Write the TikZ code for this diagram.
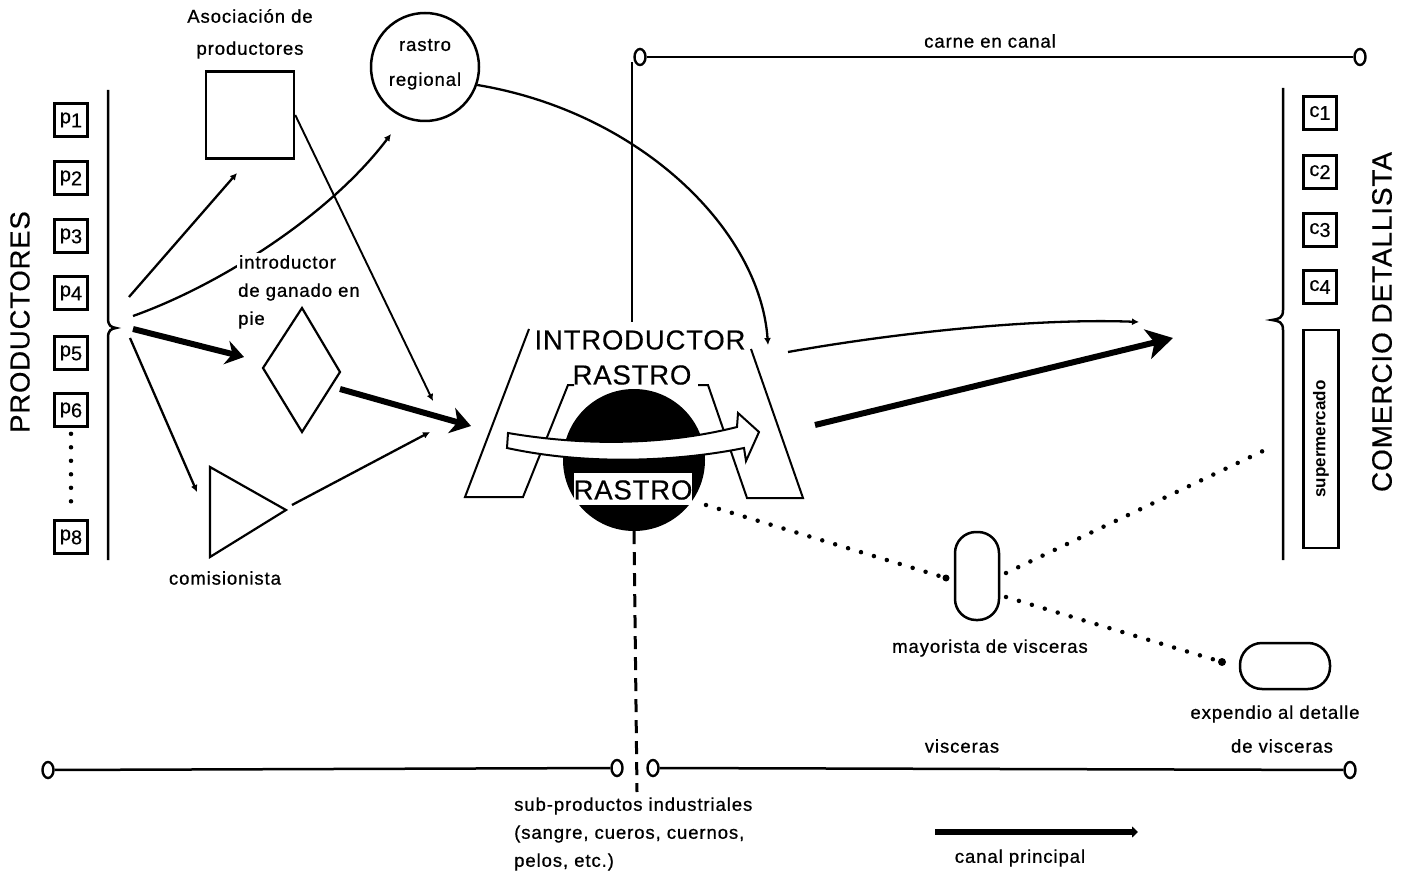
\documentclass[tikz,border=0pt]{standalone}
\usepackage{fontspec}
\setmainfont{Liberation Sans}
\newfontfamily\lsp[LetterSpace=5,FakeBold=0.8]{Liberation Sans}
\newfontfamily\bsp[LetterSpace=3,FakeBold=0.4]{Liberation Sans}
\usetikzlibrary{arrows.meta,shapes.geometric,shapes.misc}
\begin{document}
\begin{tikzpicture}[x=1pt,y=-1pt,
  lbl/.style={font=\lsp\fontsize{18.5}{20}\selectfont, inner sep=1pt},
  big/.style={font=\bsp\fontsize{27.5}{30}\selectfont, inner sep=0pt},
  pbox/.style={draw, line width=2.6pt, minimum width=33pt, minimum height=33pt, inner sep=0pt, font=\bsp\fontsize{20}{22}\selectfont},
  ocirc/.style={draw, ellipse, line width=2.4pt, minimum width=11pt, minimum height=16pt, inner sep=0pt},
  conn/.style={line width=2.3pt},
  dottip/.style={-{Latex[length=7pt,width=7pt]}},
  mainarr/.style={line width=6pt, -{Stealth[length=22pt,width=24pt,inset=6pt]}},
  dotline/.style={line width=4.5pt, line cap=round, dash pattern=on 0pt off 13.5pt},
  shp/.style={line width=2.5pt}
]
\useasboundingbox (0,0) rectangle (1406,877);
\fill[white] (0,0) rectangle (1406,877);

% ---------- left: productores ----------
\node[big, rotate=90, font=\bsp\fontsize{27.5}{30}\selectfont] (prod) at (20,322) {PRODUCTORES};
\node[pbox] (p1) at (71,120) {p\raisebox{-4pt}{1}};
\node[pbox] (p2) at (71,178) {p\raisebox{-4pt}{2}};
\node[pbox] (p3) at (71,236) {p\raisebox{-4pt}{3}};
\node[pbox] (p4) at (71,293) {p\raisebox{-4pt}{4}};
\node[pbox] (p5) at (71,353) {p\raisebox{-4pt}{5}};
\node[pbox] (p6) at (71,410) {p\raisebox{-4pt}{6}};
\node[pbox] (p8) at (71,537) {p\raisebox{-4pt}{8}};
\draw[dotline] ([yshift=-6pt]p6.south) -- ([yshift=6pt]p8.north);
\draw[shp] (108,90) -- (108,318) .. controls (108,326) and (111,327) .. (116,328)
  .. controls (111,329) and (108,330) .. (108,338) -- (108,560);

% ---------- intermediaries ----------
\node[lbl] (asoclbl1) at (250,16) {Asociación de};
\node[lbl] (asoclbl2) at (250,50) {productores};
\node[draw, shp, minimum width=88pt, minimum height=87pt, inner sep=0pt] (asoc) at (250,115) {};
\node[draw, shp, circle, minimum size=108pt, inner sep=0pt] (rr) at (425,67) {};
\node[lbl] (rrl1) at (425,45) {rastro};
\node[lbl] (rrl2) at (425,81) {regional};

\draw[shp, line width=2.2pt] (302,308) coordinate (dtop) -- (340,372) coordinate (dright) -- (302,432) coordinate (dbot) -- (263,368) coordinate (dleft) -- cycle;
\draw[shp, line width=2.2pt] (210,467) coordinate (tl) -- (286,510) coordinate (ttip) -- (210,557) coordinate (tb) -- cycle;
\node[lbl] (coml) at (225,578) {comisionista};

% connectors from producers
\coordinate (s1) at (129,297);
\coordinate (s2) at (133,316);
\coordinate (s3) at (133,329);
\coordinate (s4) at (130,338);
\coordinate (e1) at (237,173);
\coordinate (e2) at (391,134);
\coordinate (e3) at (244,357);
\coordinate (e4) at (197,492);
\draw[conn, dottip] (s1) -- (e1);
\draw[conn, dottip] (s2) .. controls (220,285) and (330,215) .. (e2);
\draw[mainarr, -{Stealth[length=18pt,width=24pt,inset=6pt]}] (s3) -- (e3);
\draw[conn, dottip] (s4) -- (e4);

\node[lbl, anchor=west, fill=white, inner sep=2pt] (intl1) at (237,262) {introductor};
\node[lbl, anchor=west] (intl2) at (237,292) {de ganado en};
\node[lbl, anchor=west] (intl3) at (237,320) {pie};

% connectors to rastro
\coordinate (e5) at (433,401);
\coordinate (ds) at (340,389);
\coordinate (e6) at (471,426);
\coordinate (ts) at (292,505);
\coordinate (e7) at (430,432);
\draw[conn, line width=1.9pt, dottip] (asoc.east) -- (e5);
\draw[mainarr, -{Stealth[length=20pt,width=26pt,inset=6pt]}] (ds) -- (e6);
\draw[conn, dottip] (ts) -- (e7);

% ---------- central rastro figure ----------
\draw[shp, line width=2pt] (529,329) -- (465,497) -- (523,497) -- (568,385) -- (574,385);
\draw[shp, line width=2pt] (751,349) -- (803,498) -- (747,498) -- (708,385) -- (698,385);
\node[circle, fill=black, minimum size=142pt, inner sep=0pt] (ball) at (634,460) {};
\draw[line width=2pt, fill=white] (508,433) .. controls (590,447) and (670,444) .. (737,427)
  -- (738,413) -- (759,432) -- (746,461) -- (744,448)
  .. controls (680,461) and (590,466) .. (507,448) -- cycle;
\node[fill=white, minimum width=118pt, minimum height=32pt, inner sep=0pt] (rbox) at (633,489) {};
\node[big] (rastro2) at (633,490) {RASTRO};
\node[big] (intro) at (640,340) {INTRODUCTOR};
\node[big] (rastro1) at (632,375) {RASTRO};

% ---------- top line ----------
\node[ocirc] (cl) at (640,57) {};
\node[ocirc] (cr) at (1360,57) {};
\draw[shp] (cl) -- (cr);
\node[lbl] (carne) at (990,41) {carne en canal};
\draw[shp, line width=2.2pt] (632,62) -- (632,322);

% rastro regional curve
\coordinate (e8) at (768,345);
\draw[conn, dottip] (rr.-19) .. controls (640,112) and (760,230) .. (e8);

% to retail
\coordinate (r1) at (788,352);
\coordinate (r2) at (1139,322);
\draw[conn, dottip] (r1) .. controls (900,332) and (1040,318) .. (r2);
\coordinate (r3) at (815,425);
\coordinate (r4) at (1173,338);
\draw[mainarr, -{Stealth[length=26pt,width=30pt,inset=7pt]}] (r3) -- (r4);

% ---------- right: comercio detallista ----------
\draw[shp] (1283,88) -- (1283,310) .. controls (1283,318) and (1279,319) .. (1272,320)
  .. controls (1279,321) and (1283,322) .. (1283,330) -- (1283,560);
\node[pbox] (c1) at (1320,113) {\raisebox{3pt}{c}1};
\node[pbox] (c2) at (1320,172) {\raisebox{3pt}{c}2};
\node[pbox] (c3) at (1320,230) {\raisebox{3pt}{c}3};
\node[pbox] (c4) at (1320,287) {\raisebox{3pt}{c}4};
\node[draw, shp, rotate=90, minimum width=218pt, minimum height=35pt, inner sep=0pt,
  font=\fontsize{17}{19}\selectfont\bfseries] (super) at (1321,439) {supermercado};
\node[big, rotate=90, font=\bsp\fontsize{28}{30}\selectfont] (comd) at (1382,322) {COMERCIO DETALLISTA};

% ---------- visceras ----------
\node[draw, shp, rounded corners=21pt, minimum width=44pt, minimum height=88pt] (may) at (977,576) {};
\node[lbl] (mayl) at (990,648) {mayorista de visceras};
\node[draw, shp, rounded corners=22pt, minimum width=90pt, minimum height=46pt] (exp) at (1285,666) {};
\node[lbl] (expl1) at (1275,714) {expendio al detalle};
\node[lbl] (expl2) at (1282,746) {de visceras};
\coordinate (v1) at (706,505);
\coordinate (v2) at (946,578);
\draw[dotline] (v1) -- (v2);
\fill (v2) circle (3.5pt);
\coordinate (v3) at (1006,573);
\coordinate (v4) at (1265,450);
\draw[dotline] (v3) -- (v4);
\coordinate (v5) at (1006,597);
\coordinate (v6) at (1222,662);
\draw[dotline] (v5) -- (v6);
\fill (v6) circle (4pt);

% ---------- bottom lines ----------
\draw[line width=3pt, dash pattern=on 13pt off 8pt] (ball.south) -- (637,792);
\node[ocirc] (bl1) at (48,770) {};
\node[ocirc] (bl2) at (617,768) {};
\draw[shp] (bl1) -- (bl2);
\node[ocirc] (br1) at (653,768) {};
\node[ocirc] (br2) at (1350,770) {};
\draw[shp] (br1) -- (br2);
\node[lbl] (visc) at (962,746) {visceras};
\node[lbl, anchor=west] (sub1) at (513,806) {sub-productos industriales};
\node[lbl, anchor=west] (sub2) at (513,834) {(sangre, cueros, cuernos,};
\node[lbl, anchor=west] (sub3) at (513,862) {pelos, etc.)};

% legend
\coordinate (lg1) at (935,832);
\coordinate (lg2) at (1138,832);
\draw[line width=6pt, -{Triangle[length=6pt,width=11pt]}] (lg1) -- (lg2);
\node[lbl] (legl) at (1020,858) {canal principal};
\end{tikzpicture}
\end{document}
